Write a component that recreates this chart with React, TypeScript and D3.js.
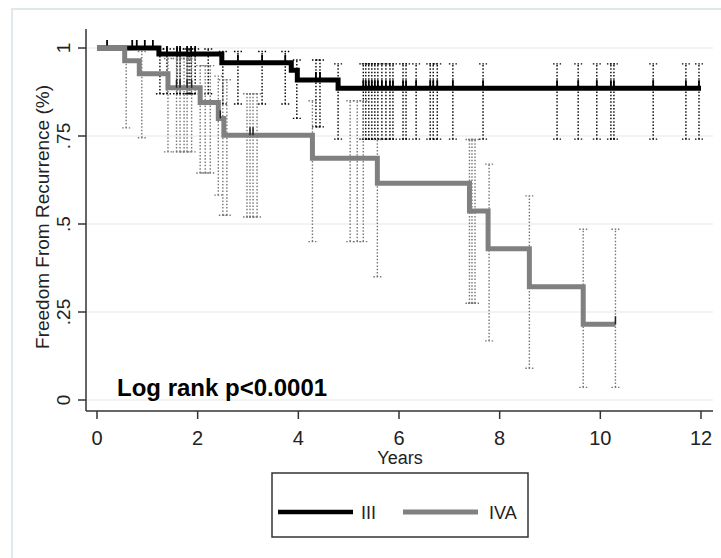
import React from "react";
import * as d3 from "d3";

const width = 721;
const height = 558;

// Kaplan-Meier steps
const blackTimes = [0, 1.23, 2.48, 3.86, 3.98, 4.79, 12.0];
const blackSurv = [1, 0.983, 0.958, 0.937, 0.909, 0.886, 0.886];
const grayTimes = [0, 0.55, 0.84, 1.41, 2.05, 2.41, 2.52, 4.28, 5.57, 7.4, 7.77, 8.59, 9.66, 10.3];
const graySurv = [1, 0.964, 0.927, 0.887, 0.845, 0.8, 0.752, 0.687, 0.616, 0.537, 0.43, 0.322, 0.215, 0.215];

// confidence spikes (time, lower, upper)
const blackCiT = [
  1.25, 1.39, 1.59, 1.65, 1.79, 1.83, 1.87, 1.95, 2.21,
  2.5, 2.8, 3.28, 3.74,
  3.97, 4.35, 4.43, 4.79,
  5.29, 5.34, 5.4, 5.46, 5.52, 5.58, 5.66, 5.74, 5.82, 5.88, 6.08, 6.14, 6.34,
  6.62, 6.68, 6.76, 7.07, 7.67, 9.14, 9.56, 9.93, 10.21, 10.27, 11.05, 11.7, 11.96,
];
const blackCiLo = [
  0.87, 0.87, 0.87, 0.87, 0.87, 0.87, 0.87, 0.87, 0.87,
  0.841, 0.841, 0.841, 0.841,
  0.8, 0.776, 0.776, 0.741,
  0.741, 0.741, 0.741, 0.741, 0.741, 0.741, 0.741, 0.741, 0.741, 0.741, 0.741, 0.741, 0.741,
  0.741, 0.741, 0.741, 0.741, 0.741, 0.741, 0.741, 0.741, 0.741, 0.741, 0.741, 0.741, 0.741,
];
const blackCiHi = [
  0.997, 0.997, 0.997, 0.997, 0.997, 0.997, 0.997, 0.997, 0.997,
  0.99, 0.99, 0.99, 0.99,
  0.966, 0.966, 0.966, 0.955,
  0.955, 0.955, 0.955, 0.955, 0.955, 0.955, 0.955, 0.955, 0.955, 0.955, 0.955, 0.955, 0.955,
  0.955, 0.955, 0.955, 0.955, 0.955, 0.955, 0.955, 0.955, 0.955, 0.955, 0.955, 0.955, 0.955,
];
const grayCiT = [0.58, 0.89, 1.41, 1.58, 1.65, 1.73, 1.79, 1.88, 2.05, 2.15, 2.25, 2.41, 2.5, 2.58, 2.98, 3.04, 3.1, 3.18, 4.28, 5.03, 5.17, 5.29, 5.57, 7.4, 7.45, 7.51, 7.79, 8.59, 9.66, 10.3];
const grayCiLo = [0.773, 0.745, 0.705, 0.705, 0.705, 0.705, 0.705, 0.705, 0.645, 0.645, 0.645, 0.582, 0.525, 0.525, 0.52, 0.52, 0.52, 0.52, 0.45, 0.45, 0.45, 0.45, 0.35, 0.275, 0.275, 0.275, 0.168, 0.09, 0.036, 0.036];
const grayCiHi = [0.995, 0.99, 0.97, 0.97, 0.97, 0.97, 0.97, 0.97, 0.95, 0.95, 0.95, 0.92, 0.91, 0.91, 0.87, 0.87, 0.87, 0.87, 0.85, 0.85, 0.85, 0.85, 0.74, 0.74, 0.74, 0.74, 0.67, 0.58, 0.485, 0.485];

// censor marks
const blackCensor = [0.2, 0.7, 0.79, 0.95, 1.11, 1.39, 1.59, 1.65, 1.79, 1.87, 1.95, 2.8, 3.28, 3.74, 4.35, 4.43,
  5.29, 5.34, 5.4, 5.46, 5.52, 5.58, 5.66, 5.74, 5.82, 5.88, 6.08, 6.14, 6.34, 6.62, 6.68, 6.76, 7.07, 7.67,
  9.14, 9.56, 9.93, 10.21, 10.27, 11.05, 11.7, 11.96];
const grayCensor = [1.58, 1.65, 1.79, 1.88, 2.45, 3.04, 3.1, 10.3];

const xTicks = [0, 2, 4, 6, 8, 10, 12];
const yTicks = [0, 0.25, 0.5, 0.75, 1];
const yTickLabels = ["0", ".25", ".5", ".75", "1"];
const groups = ["III", "IVA"];

const x = d3.scaleLinear().domain([0, 12]).range([97, 701]);
const y = d3.scaleLinear().domain([0, 1]).range([400, 48]);

const stepLine = d3
  .line<[number, number]>()
  .x((d) => x(d[0]))
  .y((d) => y(d[1]))
  .curve(d3.curveStepAfter);

const survAt = (times: number[], surv: number[], t: number) => {
  let s = surv[0];
  times.forEach((tt, i) => {
    if (tt <= t) s = surv[i];
  });
  return s;
};

const font = "'Liberation Sans', Arial, sans-serif";

const Spikes = ({ ts, lo, hi, color }: { ts: number[]; lo: number[]; hi: number[]; color: string }) => (
  <g stroke={color} strokeWidth={1.4} strokeDasharray="1.5 1.8" fill="none">
    {ts.map((t, i) => (
      <g key={i}>
        <line x1={x(t)} x2={x(t)} y1={y(lo[i])} y2={y(hi[i])} />
        <line x1={x(t) - 4} x2={x(t) + 4} y1={y(lo[i])} y2={y(lo[i])} />
        <line x1={x(t) - 4} x2={x(t) + 4} y1={y(hi[i])} y2={y(hi[i])} />
      </g>
    ))}
  </g>
);

export default function App() {
  const black = blackTimes.map((t, i) => [t, blackSurv[i]] as [number, number]);
  const gray = grayTimes.map((t, i) => [t, graySurv[i]] as [number, number]);

  return (
    <svg width={width} height={height} style={{ position: "absolute", left: 0, top: 0, background: "#fff" }}>
      <rect x={12} y={9} width={730} height={570} fill="#fff" stroke="#e1e8eb" strokeWidth={2} />

      {/* gridlines */}
      {yTicks.map((v) => (
        <line key={v} x1={86} x2={713} y1={y(v)} y2={y(v)} stroke="#eef0f0" strokeWidth={1.5} />
      ))}

      <Spikes ts={blackCiT} lo={blackCiLo} hi={blackCiHi} color="#000" />
      <Spikes ts={grayCiT} lo={grayCiLo} hi={grayCiHi} color="#777" />

      <path d={stepLine(black) || ""} fill="none" stroke="#000" strokeWidth={5} />
      {blackCensor.map((t, i) => {
        const s = survAt(blackTimes, blackSurv, t);
        return <line key={i} x1={x(t)} x2={x(t)} y1={y(s) - 8} y2={y(s)} stroke="#000" strokeWidth={1.8} />;
      })}
      <path d={stepLine(gray) || ""} fill="none" stroke="#808080" strokeWidth={5} />
      {grayCensor.map((t, i) => {
        const s = survAt(grayTimes, graySurv, t);
        return <line key={i} x1={x(t)} x2={x(t)} y1={y(s) - 8} y2={y(s)} stroke="#222" strokeWidth={1.5} />;
      })}

      {/* axes */}
      <line x1={86} x2={86} y1={29} y2={411} stroke="#333" strokeWidth={1.5} />
      <line x1={86} x2={713} y1={411} y2={411} stroke="#333" strokeWidth={1.5} />
      {yTicks.map((v, i) => (
        <g key={v}>
          <line x1={78} x2={86} y1={y(v)} y2={y(v)} stroke="#333" strokeWidth={1.5} />
          <text
            transform={`translate(70,${y(v)}) rotate(-90)`}
            textAnchor="middle"
            fontFamily={font}
            fontSize={19}
            fill="#222"
          >
            {yTickLabels[i]}
          </text>
        </g>
      ))}
      {xTicks.map((v) => (
        <g key={v}>
          <line x1={x(v)} x2={x(v)} y1={411} y2={419} stroke="#333" strokeWidth={1.5} />
          <text x={x(v)} y={445} textAnchor="middle" fontFamily={font} fontSize={20} fill="#222">
            {v}
          </text>
        </g>
      ))}
      <text x={400} y={464} textAnchor="middle" fontFamily={font} fontSize={18} fill="#222">
        Years
      </text>
      <text
        transform="translate(49,217) rotate(-90)"
        textAnchor="middle"
        fontFamily={font}
        fontSize={19}
        fill="#222"
      >
        Freedom From Recurrence (%)
      </text>

      <text x={117} y={396} fontFamily={font} fontSize={24} fontWeight="bold" fill="#000">
        Log rank p&lt;0.0001
      </text>

      {/* legend */}
      <rect x={272} y={473} width={256} height={64} fill="#fff" stroke="#333" strokeWidth={1.5} />
      <line x1={278} x2={353} y1={512} y2={512} stroke="#000" strokeWidth={4.5} />
      <text x={361} y={519} fontFamily={font} fontSize={18} fill="#222">
        {groups[0]}
      </text>
      <line x1={403} x2={478} y1={512} y2={512} stroke="#808080" strokeWidth={5} />
      <text x={489} y={519} fontFamily={font} fontSize={18} fill="#222">
        {groups[1]}
      </text>
    </svg>
  );
}
